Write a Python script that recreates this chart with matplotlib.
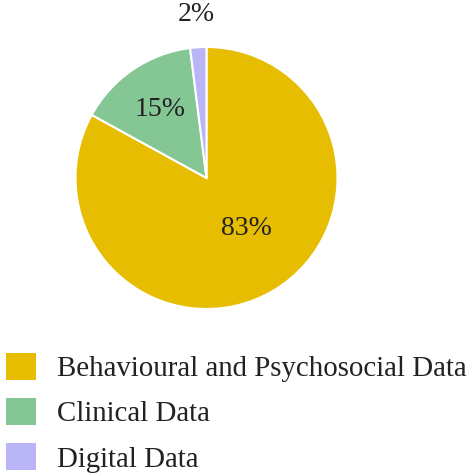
import numpy as np
import matplotlib
matplotlib.use('agg')
import matplotlib.pyplot as plt
from matplotlib.patches import Patch

categories = ['Behavioural and Psychosocial Data', 'Clinical Data', 'Digital Data']
shares = [83, 15, 2]
colors = ['#E6BD00', '#84C795', '#B9B5F7']

plt.rcParams['font.family'] = ['Liberation Serif', 'DejaVu Serif']

fig = plt.figure(figsize=(4.74, 4.75), dpi=100)

# pie area in pixels: centre (206.5, 178), radius 131
ax = fig.add_axes([(206.5 - 131) / 474, 1 - (178 + 131) / 475, 262 / 474, 262 / 475])
wedges, texts, autotexts = ax.pie(shares, colors=colors, startangle=90, counterclock=False,
                                  autopct='%d%%', pctdistance=0.6,
                                  wedgeprops=dict(edgecolor='white', linewidth=1.5),
                                  textprops=dict(fontsize=20, color='#222222'))
ax.set_xlim(-1, 1)
ax.set_ylim(-1, 1)
ax.set_aspect('equal')
ax.axis('off')

# move percentage labels (distance and small angle tweak per slice)
dists = [0.49, 0.63, 1.25]
shifts = [8, 0, 0]
for w, t, d, s in zip(wedges, autotexts, dists, shifts):
    ang = np.deg2rad((w.theta1 + w.theta2) / 2 + s)
    t.set_position((d * np.cos(ang), d * np.sin(ang)))
    t.set_ha('center')
    t.set_va('center')

handles = [Patch(facecolor=c, edgecolor='none') for c in colors]
fig.legend(handles, categories, loc='upper left', bbox_to_anchor=(6 / 474, 1 - 353 / 475),
           frameon=False, fontsize=20.8, handlelength=1.05, handleheight=1.05,
           handletextpad=0.72, labelspacing=0.55, borderpad=0.0, borderaxespad=0.0,
           labelcolor='#222222')

fig.savefig('out.png', dpi=100)
